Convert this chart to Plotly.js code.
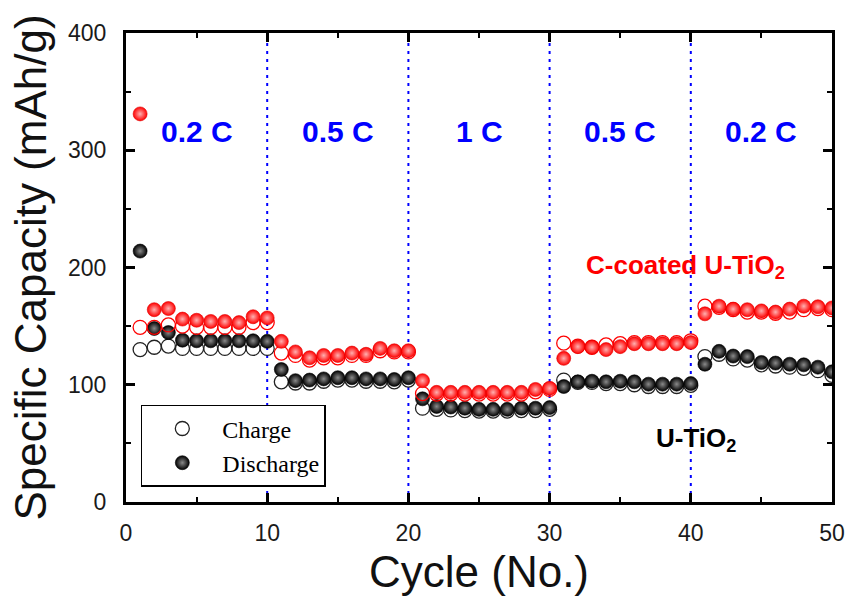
<!DOCTYPE html>
<html>
<head>
<meta charset="utf-8">
<script src="https://cdn.plot.ly/plotly-3.0.1.min.js"></script>
<style>html,body{margin:0;padding:0;background:#fff;}#chart{width:849px;height:602px;}</style>
</head>
<body>
<div id="chart"></div>
<script>
// ---- data ----
const cycles = [1,2,3,4,5,6,7,8,9,10,11,12,13,14,15,16,17,18,19,20,21,22,23,24,25,26,27,28,29,30,31,32,33,34,35,36,37,38,39,40,41,42,43,44,45,46,47,48,49,50];

// C-coated U-TiO2
const cCoatedCharge = [149,149,151,150,149,149,149,149,153,153,
  127,125,121,123,123,125,125,129,128,128,
  92.5,92,92,92,92,92,92,92,94,96,
  135.5,133,132,134,135,136,136,136,136,137.5,
  167,166,164,162,162,161,162,164,165,164];
const cCoatedDischarge = [331,164,165,156,155,154,154,153,158,157,
  137,128,123,125,125,127,126,131,129,129,
  103.5,93.5,93.5,93.5,93.5,93.5,93.5,93.5,96,97,
  122.5,132.5,132,130,132.5,135,135,135,135,136,
  160.5,167,164.5,164,163,162,164.5,167,166.5,165.5];

// U-TiO2
const uCharge = [130,132,133,131,131,131,131,131,131,131,
  102.5,101.5,101.5,103,104,104,103,103,102.5,104,
  80,79,78.5,78,77.5,77.5,77.5,78,78,79,
  104,102,102,101,101,100,98.5,98.5,98.5,99.5,
  124,126,122,121,117,116,115,114,112,108];
const uDischarge = [214,148,144.5,138,137.5,137.5,137.5,137.5,137.5,137,
  113,103.5,104,105,106,106,105,105,104.5,106,
  88,81.5,81,80,79,79,79,80,80,80.5,
  98.5,102.5,103,102.5,103,102.5,100.5,100.5,100.5,101,
  117.5,128.5,124.5,124,119,118.5,117.5,117,115,111];

const rateBoundaries = [10,20,30,40];
const rateLabels = ['0.2 C','0.5 C','1 C','0.5 C','0.2 C'];
const rateSegments = [[0,10],[10,20],[20,30],[30,40],[40,50]];
const rateLabelY = 316;

const seriesLabels = ['C-coated U-TiO<sub>2</sub>', 'U-TiO<sub>2</sub>'];
const seriesLabelX = [39.6, 40.4];
const seriesLabelY = [201, 53];

// ---- styling ----
const SANS = 'Arial, "Liberation Sans", sans-serif';
const SERIF = '"Times New Roman", "Liberation Serif", serif';
const MS = 14;

function sphere(color, center, line) {
  return {symbol:'circle', size:MS, color:color,
    gradient:{type:'radial', color:center}, line:{color:line, width:0.6}};
}

const traces = [
  {x:cycles, y:uCharge, type:'scatter', mode:'markers', name:'Charge', showlegend:true,
   marker:{symbol:'circle-open', size:MS, color:'#222', line:{width:1.3, color:'#222'}}},
  {x:cycles, y:uDischarge, type:'scatter', mode:'markers', name:'Discharge', showlegend:true,
   marker:sphere('#000000','#8a8a8a','#000')},
  {x:cycles, y:cCoatedCharge, type:'scatter', mode:'markers', name:'C charge', showlegend:false,
   marker:{symbol:'circle-open', size:MS, color:'#ff0000', line:{width:1.3, color:'#ff0000'}}},
  {x:cycles, y:cCoatedDischarge, type:'scatter', mode:'markers', name:'C discharge', showlegend:false,
   marker:sphere('#ff0000','#ffb0b0','#e00000')}
];

const shapes = rateBoundaries.map(b => ({
  type:'line', xref:'x', yref:'paper', x0:b, x1:b, y0:0, y1:1,
  line:{color:'#0000ff', width:2, dash:'3px,5px'}, layer:'below'
}));

const annotations = rateLabels.map((t,i) => ({
  x:(rateSegments[i][0]+rateSegments[i][1])/2, y:rateLabelY, xref:'x', yref:'y',
  text:t, showarrow:false, font:{family:SANS, size:30, color:'#0000ff', weight:'bold'}
}));
annotations.push({x:seriesLabelX[0], y:seriesLabelY[0], xref:'x', yref:'y', text:seriesLabels[0],
  showarrow:false, font:{family:SANS, size:26, color:'#ff0000', weight:'bold'}});
annotations.push({x:seriesLabelX[1], y:seriesLabelY[1], xref:'x', yref:'y', text:seriesLabels[1],
  showarrow:false, font:{family:SANS, size:26, color:'#000000', weight:'bold'}});

const axisCommon = {
  showline:true, linecolor:'#000', linewidth:3, mirror:'ticks',
  ticks:'inside', ticklen:9, tickwidth:3, tickcolor:'#000',
  showgrid:false, zeroline:false,
  tickfont:{family:SANS, size:23, color:'#1a1a1a'}
};

const layout = {
  width:849, height:602,
  margin:{l:126, r:17, t:33, b:100},
  paper_bgcolor:'#fff', plot_bgcolor:'#fff',
  showlegend:true,
  legend:{x:0.021, y:0.207, xanchor:'left', yanchor:'top',
    bgcolor:'#fff', bordercolor:'#000', borderwidth:1.5,
    font:{family:SERIF, size:24, color:'#000'}, itemwidth:70, tracegroupgap:0},
  xaxis:Object.assign({}, axisCommon, {
    range:[0,50], tickmode:'linear', tick0:0, dtick:10,
    minor:{dtick:5, ticks:'inside', ticklen:5, tickwidth:2, tickcolor:'#000'},
    ticklabelstandoff:8,
    title:{text:'Cycle (No.)', font:{family:SANS, size:44, color:'#111'}, standoff:12}
  }),
  yaxis:Object.assign({}, axisCommon, {
    range:[0,400], tickmode:'linear', tick0:0, dtick:100,
    minor:{dtick:50, ticks:'inside', ticklen:5, tickwidth:2, tickcolor:'#000'},
    ticklabelstandoff:12,
    title:{text:'Specific Capacity (mAh/g)', font:{family:SANS, size:44, color:'#111'}, standoff:8}
  }),
  shapes:shapes,
  annotations:annotations
};

Plotly.newPlot('chart', traces, layout, {displayModeBar:false, staticPlot:true});
</script>
</body>
</html>
